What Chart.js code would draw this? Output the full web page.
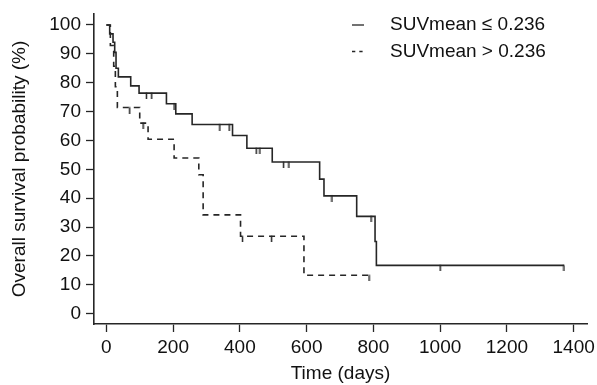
<!DOCTYPE html>
<html>
<head>
<meta charset="utf-8">
<script src="https://cdn.jsdelivr.net/npm/chart.js@4.4.1/dist/chart.umd.min.js"></script>
<style>
  body { margin: 0; background: #fff; }
  #wrap { width: 597px; height: 385px; }
</style>
</head>
<body>
<div id="wrap"><canvas id="km"></canvas></div>
<script>
// Tick labels
const xTicks = [0, 200, 400, 600, 800, 1000, 1200, 1400];
const yTicks = [0, 10, 20, 30, 40, 50, 60, 70, 80, 90, 100];

// Groups
const groupLabels = ['SUVmean ≤ 0.236', 'SUVmean > 0.236'];

// SUVmean <= 0.236 (solid)
const lowTime = [0, 10, 20, 25, 29, 36, 73, 98, 180, 208, 257, 378, 421, 497, 639, 652, 750, 805, 809, 1371];
const lowSurv = [100, 96.9, 94, 90.5, 85, 82, 78.9, 76.4, 72.7, 69.2, 65.5, 61.7, 57.3, 52.5, 46.6, 40.8, 33.7, 25, 16.7, 16.7];
const lowCensorTime = [120, 136, 203, 340, 368, 449, 460, 531, 547, 676, 793, 1000, 1371];
const lowCensorSurv = [76.4, 76.4, 72.7, 65.5, 65.5, 57.3, 57.3, 52.5, 52.5, 40.8, 33.7, 16.7, 16.7];

// SUVmean > 0.236 (dashed)
const highTime = [0, 12, 22, 27, 33, 100, 125, 203, 277, 290, 402, 592, 787];
const highSurv = [100, 92.9, 85.7, 78.6, 71.4, 66, 60.4, 53.9, 48.1, 34.2, 26.8, 13.3, 13.3];
const highCensorTime = [70, 110, 408, 495, 787];
const highCensorSurv = [71.4, 66, 26.8, 26.8, 13.3];

const ink = '#262626';
const font = { family: "'Liberation Sans', Arial, sans-serif", size: 19 };

const toPoints = (xs, ys) => xs.map((x, i) => ({ x, y: ys[i] }));

// censor mark: short tick hanging below the curve
const censorMark = document.createElement('canvas');
censorMark.width = 3;
censorMark.height = 12;
(() => {
  const c = censorMark.getContext('2d');
  c.strokeStyle = ink;
  c.lineWidth = 1.5;
  c.beginPath();
  c.moveTo(1.5, 5.5);
  c.lineTo(1.5, 12);
  c.stroke();
})();

// Legend drawn in the top right corner of the plot
const cornerLegend = {
  id: 'cornerLegend',
  afterDraw(chart) {
    const { ctx, chartArea } = chart;
    const x0 = chartArea.right - 235;
    const rows = [{ y: 25, dash: [] }, { y: 51.5, dash: [3.3, 4] }];
    ctx.save();
    ctx.font = `${font.size}px ${font.family}`;
    ctx.textBaseline = 'middle';
    rows.forEach((row, i) => {
      ctx.strokeStyle = ink;
      ctx.lineWidth = 1.3;
      ctx.setLineDash(row.dash);
      ctx.beginPath();
      ctx.moveTo(x0, row.y);
      ctx.lineTo(x0 + 12, row.y);
      ctx.stroke();
      ctx.fillStyle = '#111';
      ctx.fillText(groupLabels[i], x0 + 38, row.y);
    });
    ctx.restore();
  },
};

new Chart(document.getElementById('km'), {
  type: 'line',
  data: {
    datasets: [
      {
        label: groupLabels[0],
        data: toPoints(lowTime, lowSurv),
        borderColor: ink,
        borderWidth: 1.6,
        stepped: 'before',
        pointRadius: 0,
      },
      {
        label: groupLabels[1],
        data: toPoints(highTime, highSurv),
        borderColor: ink,
        borderWidth: 1.6,
        borderDash: [6, 5],
        stepped: 'before',
        pointRadius: 0,
      },
      {
        data: toPoints(lowCensorTime, lowCensorSurv),
        showLine: false,
        pointStyle: censorMark,
        pointRadius: 3,
      },
      {
        data: toPoints(highCensorTime, highCensorSurv),
        showLine: false,
        pointStyle: censorMark,
        pointRadius: 3,
      },
    ],
  },
  options: {
    responsive: true,
    maintainAspectRatio: false,
    animation: false,
    layout: { padding: { top: 14, right: 10, left: 0, bottom: 0 } },
    scales: {
      x: {
        type: 'linear',
        min: -37,
        max: 1440,
        afterBuildTicks: (axis) => { axis.ticks = xTicks.map((v) => ({ value: v })); },
        afterFit: (axis) => {
          axis.height = 61;
          // let the layout padding decide the plot edges
          axis.paddingLeft = 0;
          axis.paddingRight = 0;
        },
        grid: { drawOnChartArea: false, tickLength: 8, tickColor: ink, tickWidth: 1.3 },
        border: { color: ink, width: 1.6 },
        ticks: {
          color: '#111', font, padding: 4, maxRotation: 0, autoSkip: false,
          callback: (value) => String(value), // no thousands separator
        },
        title: { display: true, text: 'Time (days)', color: '#111', font, padding: { top: 0, bottom: 0 } },
      },
      y: {
        min: -3.6,
        max: 103.8,
        afterBuildTicks: (axis) => { axis.ticks = yTicks.map((v) => ({ value: v })); },
        afterFit: (axis) => {
          axis.width = 94;
          axis.paddingTop = 0;
          axis.paddingBottom = 0;
        },
        grid: { drawOnChartArea: false, tickLength: 8, tickColor: ink, tickWidth: 1.3 },
        border: { color: ink, width: 1.6 },
        ticks: { color: '#111', font, padding: 5, autoSkip: false },
        title: { display: true, text: 'Overall survival probability (%)', color: '#111', font, padding: { top: 8, bottom: 0 } },
      },
    },
    plugins: {
      legend: { display: false },
      tooltip: { enabled: false },
    },
  },
  plugins: [cornerLegend],
});
</script>
</body>
</html>
